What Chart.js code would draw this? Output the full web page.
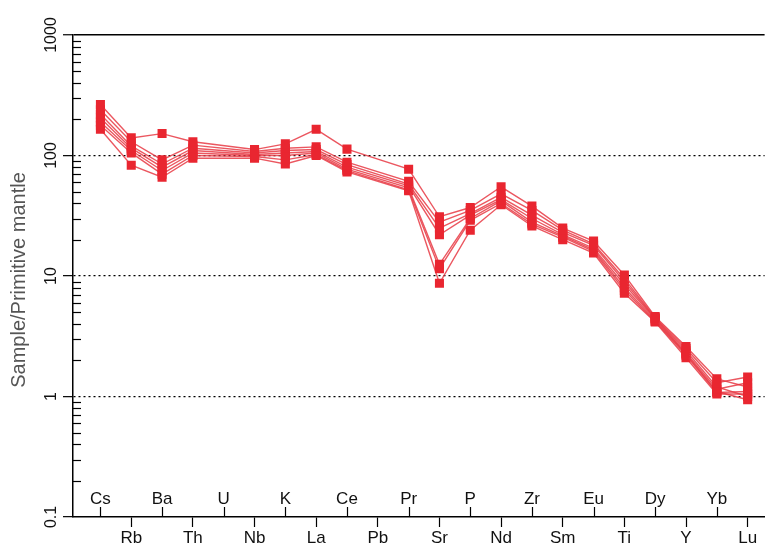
<!DOCTYPE html>
<html>
<head>
<meta charset="utf-8">
<script src="https://cdn.jsdelivr.net/npm/chart.js@4/dist/chart.umd.min.js"></script>
<style>
  html, body { margin: 0; padding: 0; background: #fff; }
  #wrap { width: 771px; height: 547px; }
</style>
</head>
<body>
<div id="wrap"><canvas id="c" width="771" height="547"></canvas></div>
<script>
// Primitive-mantle normalised trace elements (spider diagram)
const elements = ['Cs','Rb','Ba','Th','U','Nb','K','La','Ce','Pb','Pr','Sr','P','Nd','Zr','Sm','Eu','Ti','Dy','Y','Yb','Lu'];

const yTickValues = [0.1, 1, 10, 100, 1000];
const yTickLabels = ['0.1', '1', '10', '100', '1000'];
const yGridValues = [1, 10, 100];

// one row per sample, same order as elements (U and Pb not analysed)
const sample1 = [265, 140, 152, 130, null, 112, 125, 165, 113, null, 77, 31, 37, 55, 38, 25, 19.5, 10.2, 4.6, 2.6, 1.4, 1.2];
const sample2 = [240, 130, 92, 122, null, 108, 115, 118, 88, null, 61, 28, 35, 48, 35, 24, 18.5, 9.5, 4.5, 2.5, 1.3, 1.45];
const sample3 = [220, 120, 85, 115, null, 105, 110, 112, 84, null, 58, 25, 33, 45, 32, 23, 18, 9.0, 4.45, 2.4, 1.2, 1.0];
const sample4 = [205, 115, 80, 110, null, 102, 105, 108, 80, null, 56, 22, 32, 43, 30, 22, 17, 8.5, 4.4, 2.3, 1.15, 1.3];
const sample5 = [190, 110, 75, 105, null, 100, 100, 105, 77, null, 54, 12.5, 30, 42, 28, 21.5, 16.5, 8.0, 4.3, 2.25, 1.1, 0.94];
const sample6 = [178, 105, 70, 100, null, 98, 92, 102, 75, null, 52, 11.5, 29, 40, 27, 21, 16, 7.6, 4.2, 2.2, 1.08, 1.1];
const sample7 = [165, 83, 66, 95, null, 95, 85, 100, 73, null, 51, 8.7, 24, 39, 26, 20, 15.5, 7.2, 4.15, 2.1, 1.05, 1.05];

const samples = [sample1, sample2, sample3, sample4, sample5, sample6, sample7];

const MARK = 'rgb(233,38,48)';
const LINE = 'rgba(232,58,68,0.85)';
const LABEL_FONT = '17px "Liberation Sans", Arial, sans-serif';
const NUM_FONT = '16px "Liberation Sans", Arial, sans-serif';

// log axis tick positions: every 1..9 multiple per decade
const logTicks = [];
for (let e = -1; e < 3; e++) {
  for (let m = 1; m < 10; m++) logTicks.push(+(m * Math.pow(10, e)).toPrecision(3));
}
logTicks.push(1000);

const isDecade = v => yTickValues.includes(v);

const datasets = samples.map(row => ({
  data: row.map((v, i) => ({ x: i, y: v })),
  borderColor: LINE,
  borderWidth: 1.4,
  backgroundColor: MARK,
  pointBackgroundColor: MARK,
  pointBorderColor: MARK,
  pointBorderWidth: 0,
  pointStyle: 'rect',
  pointRadius: 6.4,
  pointHoverRadius: 6.4,
  spanGaps: true,
  tension: 0,
  fill: false
}));

// axis decorations the scales don't draw on their own
const axisExtras = {
  id: 'axisExtras',
  afterDraw(chart) {
    const { ctx, chartArea } = chart;
    const xs = chart.scales.x, ys = chart.scales.y;
    ctx.save();
    ctx.strokeStyle = '#000';
    ctx.lineWidth = 1.2;

    // minor log ticks pointing inward
    logTicks.forEach(v => {
      if (isDecade(v)) return;
      const y = Math.round(ys.getPixelForValue(v)) + 0.5;
      ctx.beginPath();
      ctx.moveTo(chartArea.left, y);
      ctx.lineTo(chartArea.left + 8, y);
      ctx.stroke();
    });

    // even-position element ticks point up into the plot
    elements.forEach((el, i) => {
      if (i % 2) return;
      const x = Math.round(xs.getPixelForValue(i)) + 0.5;
      ctx.beginPath();
      ctx.moveTo(x, chartArea.bottom);
      ctx.lineTo(x, chartArea.bottom - 10);
      ctx.stroke();
    });

    // element labels, alternating above and below the axis
    ctx.fillStyle = '#111';
    ctx.font = LABEL_FONT;
    ctx.textAlign = 'center';
    ctx.textBaseline = 'middle';
    elements.forEach((el, i) => {
      const x = xs.getPixelForValue(i);
      const y = i % 2 ? chartArea.bottom + 21 : chartArea.bottom - 18;
      ctx.fillText(el, x, y);
    });

    // rotated decade labels
    ctx.font = NUM_FONT;
    yTickValues.forEach((v, k) => {
      const y = ys.getPixelForValue(v);
      ctx.save();
      ctx.translate(52, y);
      ctx.rotate(-Math.PI / 2);
      ctx.fillText(yTickLabels[k], 0, 0);
      ctx.restore();
    });

    // axis title
    ctx.fillStyle = '#555';
    ctx.font = '20px "Liberation Sans", Arial, sans-serif';
    ctx.save();
    ctx.translate(19, (chartArea.top + chartArea.bottom) / 2 + 4);
    ctx.rotate(-Math.PI / 2);
    ctx.fillText('Sample/Primitive mantle', 0, 0);
    ctx.restore();
    ctx.restore();
  }
};

new Chart(document.getElementById('c'), {
  type: 'line',
  data: { datasets },
  options: {
    responsive: false,
    animation: false,
    events: [],
    layout: { padding: { left: 63, top: 35, right: 0, bottom: 20 } },
    plugins: { legend: { display: false }, tooltip: { enabled: false } },
    scales: {
      x: {
        type: 'linear',
        min: -0.89,
        max: 21.55,
        afterBuildTicks: scale => { scale.ticks = elements.map((e, i) => ({ value: i })); },
        ticks: { display: false },
        grid: {
          drawOnChartArea: false,
          drawTicks: true,
          tickLength: 10,
          tickWidth: 1.2,
          tickColor: c => (c.tick && c.tick.value % 2 === 1) ? '#000' : 'rgba(0,0,0,0)'
        },
        border: { display: true, color: '#000', width: 1.5 }
      },
      y: {
        type: 'logarithmic',
        min: 0.1,
        max: 1000,
        afterBuildTicks: scale => { scale.ticks = logTicks.map(v => ({ value: v, major: isDecade(v) })); },
        ticks: { display: false },
        grid: {
          drawOnChartArea: true,
          drawTicks: true,
          tickLength: 10,
          tickWidth: 1.2,
          lineWidth: c => (c.tick && c.tick.value === 1000) ? 1.5 : 1.3,
          color: c => {
            const v = c.tick && c.tick.value;
            return (yGridValues.includes(v) || v === 1000) ? '#000' : 'rgba(0,0,0,0)';
          },
          tickColor: c => (c.tick && isDecade(c.tick.value)) ? '#000' : 'rgba(0,0,0,0)'
        },
        border: {
          display: true,
          color: '#000',
          width: 1.5,
          dash: c => (c.tick && c.tick.value === 1000) ? [] : [2, 3]
        }
      }
    }
  },
  plugins: [axisExtras]
});
</script>
</body>
</html>
